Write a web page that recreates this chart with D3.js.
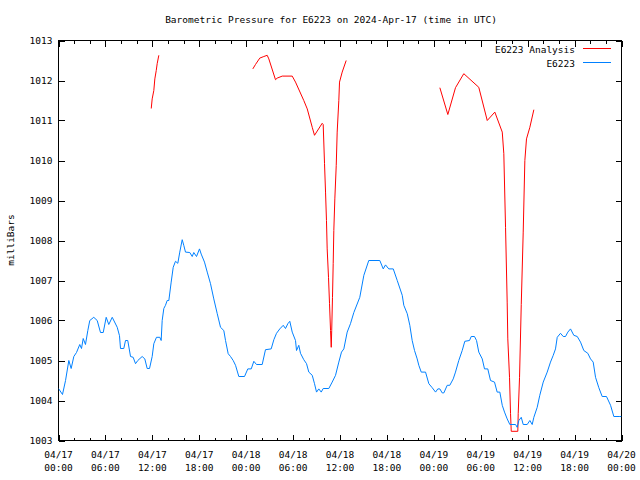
<!DOCTYPE html>
<html><head><meta charset="utf-8">
<script src="https://cdn.jsdelivr.net/npm/d3@7"></script>
<style>body{margin:0;background:#fff}svg{display:block}text{font-family:"DejaVu Sans Mono",monospace;font-size:9.5px;fill:#000}</style>
</head><body><svg id="c" width="640" height="480"></svg>
<script>
// hours since 2024-04-17 00:00 UTC
const obsHours = [0,0.51,0.9,1.32,1.62,1.96,2.3,2.72,2.94,3.16,3.45,3.75,4.0,4.51,4.95,5.37,5.72,6.1,6.43,6.87,7.51,7.8,7.93,8.35,8.57,8.86,9.21,9.55,9.85,10.14,10.7,11.04,11.34,11.64,11.98,12.19,12.53,12.96,13.13,13.26,13.47,13.68,13.9,14.11,14.41,14.67,14.96,15.26,15.51,15.82,16.02,16.24,16.79,17.1,17.3,17.65,18.03,18.25,18.67,19.02,19.44,19.86,20.3,20.72,21.14,21.36,21.7,22.0,22.34,22.64,23.06,23.79,24.21,24.65,24.98,25.32,26.05,26.47,27.2,27.54,27.88,28.3,28.74,29.03,29.33,29.58,29.89,30.31,30.44,30.73,30.95,31.37,31.72,32.01,32.45,32.74,33.0,33.29,33.6,33.85,34.57,35.0,35.43,35.85,36.19,36.49,36.92,37.34,37.77,38.53,39.05,39.68,41.09,41.53,41.82,42.24,42.81,43.32,43.96,44.16,44.6,44.93,45.23,45.53,45.87,46.08,46.39,46.94,47.36,47.79,48.22,48.51,48.77,49.07,49.28,49.71,50.04,50.48,50.77,51.19,51.63,51.96,52.56,52.78,53.2,53.46,53.75,54.19,54.48,54.9,55.25,55.76,56.1,56.44,56.75,57.04,57.38,57.72,58.45,58.66,58.87,59.18,59.43,59.94,60.28,60.58,60.79,61.22,61.55,61.99,62.5,62.92,63.27,63.56,63.78,64.2,64.55,64.84,65.14,65.48,65.9,66.34,66.76,67.18,67.69,68.04,68.38,68.68,69.1,69.53,70.08,70.6,71.02,71.79,72];
const obsValues = [1004.3,1004.15,1004.5,1005.0,1004.8,1005.1,1005.2,1005.4,1005.3,1005.55,1005.4,1005.75,1006.0,1006.08,1006.0,1005.7,1005.7,1006.08,1005.9,1006.08,1005.83,1005.62,1005.3,1005.3,1005.5,1005.5,1005.1,1005.08,1004.92,1005.0,1005.1,1005.04,1004.8,1004.8,1005.1,1005.42,1005.58,1005.58,1005.5,1006.0,1006.3,1006.38,1006.5,1006.5,1006.96,1007.33,1007.48,1007.43,1007.71,1008.02,1007.88,1007.71,1007.7,1007.6,1007.7,1007.6,1007.79,1007.66,1007.46,1007.21,1006.92,1006.54,1006.17,1005.83,1005.75,1005.5,1005.17,1005.1,1005.0,1004.88,1004.6,1004.6,1004.79,1004.79,1004.98,1004.9,1004.9,1005.27,1005.29,1005.52,1005.68,1005.79,1005.88,1005.8,1005.92,1005.98,1005.71,1005.5,1005.25,1005.38,1005.18,1005.02,1004.92,1004.71,1004.63,1004.42,1004.21,1004.29,1004.21,1004.3,1004.3,1004.46,1004.63,1004.96,1005.21,1005.29,1005.71,1005.92,1006.2,1006.58,1007.13,1007.5,1007.5,1007.29,1007.39,1007.29,1007.29,1007.0,1006.63,1006.38,1006.17,1005.88,1005.5,1005.25,1005.04,1004.88,1004.71,1004.71,1004.42,1004.32,1004.21,1004.29,1004.29,1004.19,1004.19,1004.38,1004.38,1004.54,1004.71,1005.0,1005.25,1005.48,1005.5,1005.6,1005.6,1005.5,1005.21,1005.04,1004.79,1004.79,1004.5,1004.46,1004.21,1004.21,1003.88,1003.71,1003.54,1003.4,1003.4,1003.33,1003.5,1003.58,1003.4,1003.4,1003.5,1003.4,1003.58,1003.83,1004.13,1004.46,1004.71,1004.96,1005.13,1005.29,1005.58,1005.68,1005.6,1005.6,1005.71,1005.79,1005.63,1005.6,1005.46,1005.25,1005.18,1005.04,1004.96,1004.58,1004.32,1004.1,1004.1,1003.88,1003.6,1003.6,1003.6];
const anaHours = [11.86,11.98,12.19,12.32,12.5,12.62,12.83,18.0,24.85,25.19,25.74,26.26,26.69,26.9,27.75,27.97,28.61,29.89,30.31,31.37,31.81,32.45,32.74,33.72,33.85,34.02,34.15,34.27,34.36,34.53,34.66,34.79,34.88,34.94,35.04,35.13,35.21,35.34,35.52,35.64,35.85,35.94,36.28,36.79,42.0,48.77,49.79,50.77,51.83,53.75,54.83,55.8,56.75,56.95,57.17,57.38,57.46,57.68,57.81,57.9,58.74,58.79,58.96,59.18,59.43,59.64,59.85,60.28,60.79];
const anaValues = [1011.3,1011.54,1011.75,1012.04,1012.25,1012.42,1012.63,null,1012.29,1012.4,1012.56,1012.6,1012.63,1012.54,1012.02,1012.06,1012.11,1012.11,1011.96,1011.5,1011.29,1010.83,1010.63,1010.93,1010.9,1009.92,1009.21,1008.5,1007.79,1007.08,1006.42,1005.75,1005.33,1005.75,1006.58,1007.42,1008.25,1009.04,1009.88,1010.71,1011.5,1011.96,1012.21,1012.5,null,1011.82,1011.15,1011.82,1012.17,1011.83,1011.0,1011.21,1010.71,1010.17,1008.33,1006.46,1005.54,1004.58,1003.67,1003.23,1003.23,1003.67,1004.58,1006.4,1008.21,1010.0,1010.54,1010.83,1011.27];
const yTicks = [1003,1004,1005,1006,1007,1008,1009,1010,1011,1012,1013];
const xTickLabels = [["04/17","00:00"],["04/17","06:00"],["04/17","12:00"],["04/17","18:00"],["04/18","00:00"],["04/18","06:00"],["04/18","12:00"],["04/18","18:00"],["04/19","00:00"],["04/19","06:00"],["04/19","12:00"],["04/19","18:00"],["04/20","00:00"]];
const seriesNames = ["E6223 Analysis","E6223"];
const analysisColor = "#ff0000";
const obsColor = "#0080ff";

const t0 = Date.UTC(2024,3,17,0,0);
const toDate = h => new Date(t0 + h*3600000);
const L=58.5,R=621.5,T=40.5,B=440.5;
const svg = d3.select("#c");
const x = d3.scaleUtc().domain([toDate(0),toDate(72)]).range([L,R]);
const y = d3.scaleLinear().domain([1003,1013]).range([B,T]);

// minor ticks every 2h, major every 6h (top & bottom)
const minorH = d3.range(0,73,2), majorH = d3.range(0,73,6);
const tg = svg.append("g").attr("stroke","#000").attr("stroke-width",1).attr("shape-rendering","crispEdges");
minorH.forEach(h=>{
  const xx = Math.round(x(toDate(h)))+0.5, len = (h%6===0)?6:3;
  tg.append("line").attr("x1",xx).attr("x2",xx).attr("y1",B).attr("y2",B-len);
  tg.append("line").attr("x1",xx).attr("x2",xx).attr("y1",T).attr("y2",T+len);
});
yTicks.forEach(v=>{
  const yy = Math.round(y(v))+0.5;
  tg.append("line").attr("x1",L).attr("x2",L+6).attr("y1",yy).attr("y2",yy);
  tg.append("line").attr("x1",R).attr("x2",R-6).attr("y1",yy).attr("y2",yy);
});
svg.append("rect").attr("x",L).attr("y",T).attr("width",R-L).attr("height",B-T).attr("fill","none").attr("stroke","#000").attr("shape-rendering","crispEdges");

// y labels
svg.append("g").selectAll("text").data(yTicks).join("text")
  .attr("x",L-6).attr("y",d=>y(d)+3.5).attr("text-anchor","end").text(d=>d);
// x labels
const xl = svg.append("g").selectAll("text").data(majorH).join("text")
  .attr("text-anchor","middle").attr("x",d=>x(toDate(d)));
xl.append("tspan").attr("x",d=>x(toDate(d))).attr("y",458).text((d,i)=>xTickLabels[i][0]);
xl.append("tspan").attr("x",d=>x(toDate(d))).attr("y",471).text((d,i)=>xTickLabels[i][1]);

svg.append("text").attr("x",331).attr("y",23).attr("text-anchor","middle")
  .text("Barometric Pressure for E6223 on 2024-Apr-17 (time in UTC)");
svg.append("text").attr("transform","translate(14,240) rotate(-90)").attr("text-anchor","middle").text("milliBars");

svg.append("defs").append("clipPath").attr("id","cp").append("rect")
  .attr("x",L).attr("y",T).attr("width",R-L).attr("height",B-T);
const line = d3.line().defined(d=>d[1]!==null).x(d=>x(toDate(d[0]))).y(d=>y(d[1]));
const anaData = anaHours.map((h,i)=>[h,anaValues[i]]);
const obsData = obsHours.map((h,i)=>[h,obsValues[i]]);
svg.append("path").attr("d",line(anaData)).attr("fill","none").attr("stroke",analysisColor).attr("clip-path","url(#cp)");
svg.append("path").attr("d",line(obsData)).attr("fill","none").attr("stroke",obsColor).attr("clip-path","url(#cp)");

// legend
svg.append("text").attr("x",575).attr("y",52.5).attr("text-anchor","end").text(seriesNames[0]);
svg.append("rect").attr("x",583).attr("y",48).attr("width",28).attr("height",1).attr("fill",analysisColor);
svg.append("text").attr("x",575).attr("y",66.5).attr("text-anchor","end").text(seriesNames[1]);
svg.append("rect").attr("x",583).attr("y",62).attr("width",28).attr("height",1).attr("fill",obsColor);
</script></body></html>
